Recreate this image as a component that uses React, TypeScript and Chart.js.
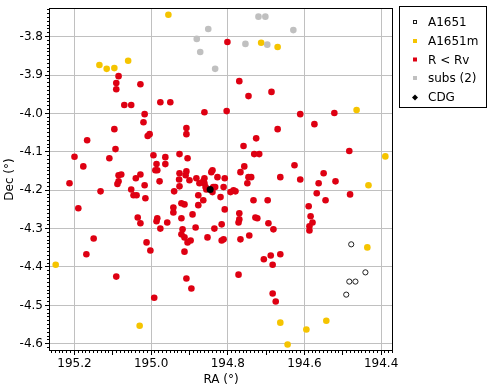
import React, { useEffect, useRef } from "react";
import { Chart, registerables } from "chart.js";

Chart.register(...registerables);

// Axis definitions
const X_TICKS = [195.2, 195.0, 194.8, 194.6, 194.4];
const Y_TICKS = [-3.8, -3.9, -4.0, -4.1, -4.2, -4.3, -4.4, -4.5, -4.6];
const X_MIN = 194.369;
const X_MAX = 195.2665;
const Y_MIN = -4.6188;
const Y_MAX = -3.7255;
const X_TITLE = "RA (°)";
const Y_TITLE = "Dec (°)";

// Series names (legend)
const SERIES_NAMES = ["A1651", "A1651m", "R < Rv", "subs (2)", "CDG"];

// A1651 (open circles)
const A1651_RA = [194.478, 194.441, 194.483, 194.467, 194.491];
const A1651_DEC = [-4.341, -4.414, -4.438, -4.438, -4.472];

// A1651m (yellow)
const A1651M_RA = [194.955, 195.135, 195.116, 195.096, 195.06, 194.713, 194.67, 194.464, 194.389, 194.433, 194.436, 194.543, 194.595, 194.663, 194.644, 195.03, 195.249];
const A1651M_DEC = [-3.743, -3.874, -3.884, -3.882, -3.863, -3.816, -3.827, -3.991, -4.112, -4.187, -4.349, -4.54, -4.563, -4.545, -4.602, -4.553, -4.394];

// R < Rv (red)
const RED_RA = [
  195.085, 195.091, 195.091, 195.028, 195.07, 195.052, 194.976, 194.95, 195.017, 195.02,
  195.096, 195.167, 195.009, 195.004, 194.908, 194.908, 195.093, 195.2, 194.994, 194.963,
  195.109, 195.177, 194.986, 194.963, 194.926, 194.905, 194.989, 194.984, 194.926, 194.908,
  194.91, 194.882, 194.9, 195.085, 195.078, 195.085, 195.088, 195.028, 195.04, 195.213,
  194.978, 194.927, 194.926, 195.017, 195.132, 195.052, 195.046, 195.038, 195.015, 194.94,
  194.874, 194.877, 194.921, 194.913, 194.942, 194.877, 195.19, 194.942, 195.035, 195.028,
  194.984, 194.986, 194.958, 194.976, 194.921, 194.892, 194.884, 194.918, 194.921, 194.913,
  194.905, 194.897, 194.913, 195.012, 195.002, 195.15, 195.169, 195.091, 194.908, 194.895,
  194.992, 194.801, 194.77, 194.746, 194.686, 194.861, 194.803, 194.611, 194.522, 194.574,
  194.67, 194.726, 194.759, 194.731, 194.718, 194.483, 194.626, 194.757, 194.767, 194.746,
  194.739, 194.749, 194.663, 194.611, 194.55, 194.563, 194.519, 194.568, 194.481, 194.733,
  194.696, 194.545, 194.589, 194.584, 194.579, 194.587, 194.587, 194.861, 194.864, 194.861,
  194.843, 194.84, 194.827, 194.808, 194.858, 194.856, 194.838, 194.833, 194.811, 194.84,
  194.793, 194.785, 194.78, 194.819, 194.864, 194.808, 194.77, 194.77, 194.772, 194.728,
  194.723, 194.694, 194.681, 194.816, 194.835, 194.853, 194.816, 194.811, 194.767, 194.744,
  194.706, 194.688, 194.663, 194.683, 194.772, 194.683, 194.675,
];
const RED_DEC = [
  -3.903, -3.921, -3.937, -3.924, -3.978, -3.978, -3.971, -3.971, -4.002, -4.023,
  -4.041, -4.07, -4.059, -4.054, -4.038, -4.054, -4.093, -4.113, -4.109, -4.114,
  -4.117, -4.138, -4.132, -4.132, -4.106, -4.117, -4.148, -4.148, -4.156, -4.151,
  -4.161, -4.169, -4.174, -4.161, -4.159, -4.177, -4.184, -4.159, -4.169, -4.182,
  -4.177, -4.172, -4.19, -4.187, -4.203, -4.198, -4.213, -4.213, -4.221, -4.203,
  -4.182, -4.213, -4.234, -4.237, -4.245, -4.239, -4.247, -4.258, -4.271, -4.286,
  -4.273, -4.281, -4.284, -4.3, -4.273, -4.263, -4.297, -4.302, -4.315, -4.323,
  -4.336, -4.331, -4.36, -4.336, -4.357, -4.326, -4.367, -4.425, -4.43, -4.456,
  -4.48, -3.814, -3.916, -3.955, -3.944, -3.997, -3.994, -4.002, -3.999, -4.028,
  -4.041, -4.065, -4.085, -4.106, -4.106, -4.098, -4.135, -4.138, -4.153, -4.166,
  -4.166, -4.182, -4.166, -4.172, -4.156, -4.182, -4.177, -4.208, -4.211, -4.226,
  -4.226, -4.226, -4.242, -4.268, -4.284, -4.294, -4.305, -4.169, -4.177, -4.182,
  -4.153, -4.148, -4.166, -4.169, -4.192, -4.198, -4.192, -4.192, -4.192, -4.205,
  -4.205, -4.2, -4.203, -4.218, -4.226, -4.25, -4.26, -4.276, -4.284, -4.271,
  -4.273, -4.286, -4.302, -4.289, -4.3, -4.323, -4.331, -4.328, -4.328, -4.318,
  -4.38, -4.37, -4.367, -4.394, -4.42, -4.469, -4.49,
];

// subs (2) (gray)
const SUBS_RA = [194.881, 194.872, 194.851, 194.833, 194.754, 194.72, 194.702, 194.697, 194.629];
const SUBS_DEC = [-3.806, -3.84, -3.78, -3.884, -3.819, -3.748, -3.748, -3.821, -3.783];

// CDG
const CDG_RA = [194.846];
const CDG_DEC = [-4.198];

const RED = "rgb(222,0,18)";
const YELLOW = "rgb(245,196,0)";
const GRAY = "rgb(192,192,192)";
const DARK = "rgb(30,30,30)";
const GRID = "#c0c0c0";
const FONT = '"DejaVu Sans", "Liberation Sans", sans-serif';

const toPts = (xs: number[], ys: number[]) => xs.map((x, i) => ({ x, y: ys[i] }));

const decorPlugin = {
  id: "decor",
  afterDraw(chart: any) {
    const { ctx, chartArea: a, scales } = chart;
    const xs = scales.x;
    const ys = scales.y;
    ctx.save();
    // frame
    ctx.strokeStyle = "#000";
    ctx.lineWidth = 1;
    ctx.strokeRect(a.left + 0.5, a.top + 0.5, a.right - a.left - 1, a.bottom - a.top - 1);
    // minor / major ticks on left and bottom axes
    ctx.beginPath();
    for (let k = Math.ceil(Y_MIN * 100); k <= Math.floor(Y_MAX * 100); k++) {
      const p = Math.round(ys.getPixelForValue(k / 100) - 0.5) + 0.5;
      const len = k % 10 === 0 ? 4 : 2;
      ctx.moveTo(a.left, p);
      ctx.lineTo(a.left - len, p);
    }
    for (let k = Math.ceil(X_MIN * 100); k <= Math.floor(X_MAX * 100); k++) {
      const p = Math.round(xs.getPixelForValue(k / 100) - 0.5) + 0.5;
      const len = k % 10 === 0 ? 4 : 2;
      ctx.moveTo(p, a.bottom);
      ctx.lineTo(p, a.bottom + len);
    }
    ctx.stroke();
    // axis titles
    ctx.fillStyle = "#000";
    ctx.font = `12px ${FONT}`;
    ctx.textAlign = "center";
    ctx.textBaseline = "middle";
    ctx.fillText(X_TITLE, (a.left + a.right) / 2, 380);
    ctx.save();
    ctx.translate(10, (a.top + a.bottom) / 2);
    ctx.rotate(-Math.PI / 2);
    ctx.fillText(Y_TITLE, 0, 0);
    ctx.restore();
    // legend
    const bx = 399, by = 6, bw = 87, bh = 101;
    ctx.strokeStyle = "#000";
    ctx.strokeRect(bx + 0.5, by + 0.5, bw, bh);
    ctx.textAlign = "left";
    const rowY = [23, 42, 60.5, 79, 98];
    const mx = 415;
    SERIES_NAMES.forEach((name, i) => {
      const y = rowY[i];
      if (i === 0) {
        ctx.strokeStyle = DARK;
        ctx.strokeRect(mx - 1.5, y - 2.5, 3, 3);
      } else if (i === 4) {
        ctx.fillStyle = "#000";
        ctx.beginPath();
        ctx.moveTo(mx, y - 3.5);
        ctx.lineTo(mx + 3, y - 0.5);
        ctx.lineTo(mx, y + 2.5);
        ctx.lineTo(mx - 3, y - 0.5);
        ctx.closePath();
        ctx.fill();
      } else {
        ctx.fillStyle = i === 1 ? YELLOW : i === 2 ? RED : GRAY;
        ctx.fillRect(mx - 2, y - 3, 4, 4);
      }
      ctx.fillStyle = "#000";
      ctx.fillText(name, 428, y);
    });
    ctx.restore();
  },
};

export default function App() {
  const ref = useRef<HTMLCanvasElement>(null);
  useEffect(() => {
    if (!ref.current) return;
    const tickFont = { family: FONT, size: 12 };
    const chart = new Chart(ref.current, {
      type: "scatter",
      data: {
        datasets: [
          {
            label: SERIES_NAMES[4],
            data: toPts(CDG_RA, CDG_DEC),
            backgroundColor: "#000",
            borderWidth: 0,
            pointRadius: 3.5,
            order: 0,
          },
          {
            label: SERIES_NAMES[2],
            data: toPts(RED_RA, RED_DEC),
            backgroundColor: RED,
            borderWidth: 0,
            pointRadius: 3.3,
            order: 2,
          },
          {
            label: SERIES_NAMES[3],
            data: toPts(SUBS_RA, SUBS_DEC),
            backgroundColor: GRAY,
            borderWidth: 0,
            pointRadius: 3.3,
            order: 1,
          },
          {
            label: SERIES_NAMES[1],
            data: toPts(A1651M_RA, A1651M_DEC),
            backgroundColor: YELLOW,
            borderWidth: 0,
            pointRadius: 3.3,
            order: 3,
          },
          {
            label: SERIES_NAMES[0],
            data: toPts(A1651_RA, A1651_DEC),
            backgroundColor: "rgba(255,255,255,0)",
            borderColor: DARK,
            borderWidth: 1,
            pointRadius: 2.6,
            order: 4,
          },
        ],
      },
      options: {
        responsive: false,
        animation: false,
        devicePixelRatio: 1,
        layout: { padding: { left: 0, top: 8, right: 95, bottom: 0 } },
        plugins: { legend: { display: false }, tooltip: { enabled: false } },
        scales: {
          x: {
            type: "linear",
            reverse: true,
            min: X_MIN,
            max: X_MAX,
            afterBuildTicks: (s: any) => {
              s.ticks = X_TICKS.map((v) => ({ value: v }));
            },
            afterFit: (s: any) => {
              s.height = 39;
              s.paddingLeft = 0;
              s.paddingRight = 0;
            },
            grid: { color: GRID, lineWidth: 1, drawTicks: true, tickLength: 5, tickColor: "rgba(0,0,0,0)" },
            border: { display: false },
            ticks: {
              padding: 1,
              color: "#000",
              font: tickFont,
              maxRotation: 0,
              autoSkip: false,
              callback: (v: any) => Number(v).toFixed(1),
            },
          },
          y: {
            type: "linear",
            min: Y_MIN,
            max: Y_MAX,
            afterBuildTicks: (s: any) => {
              s.ticks = Y_TICKS.map((v) => ({ value: v }));
            },
            afterFit: (s: any) => {
              s.width = 49;
              s.paddingTop = 0;
              s.paddingBottom = 0;
            },
            grid: { color: GRID, lineWidth: 1, drawTicks: true, tickLength: 5, tickColor: "rgba(0,0,0,0)" },
            border: { display: false },
            ticks: {
              padding: 1,
              color: "#000",
              font: tickFont,
              autoSkip: false,
              callback: (v: any) => Number(v).toFixed(1),
            },
          },
        },
      },
      plugins: [decorPlugin],
    } as any);
    return () => chart.destroy();
  }, []);
  return (
    <div style={{ position: "absolute", left: 0, top: 0, width: 488, height: 390, background: "#fff" }}>
      <canvas ref={ref} width={488} height={390} style={{ display: "block", width: 488, height: 390 }} />
    </div>
  );
}
